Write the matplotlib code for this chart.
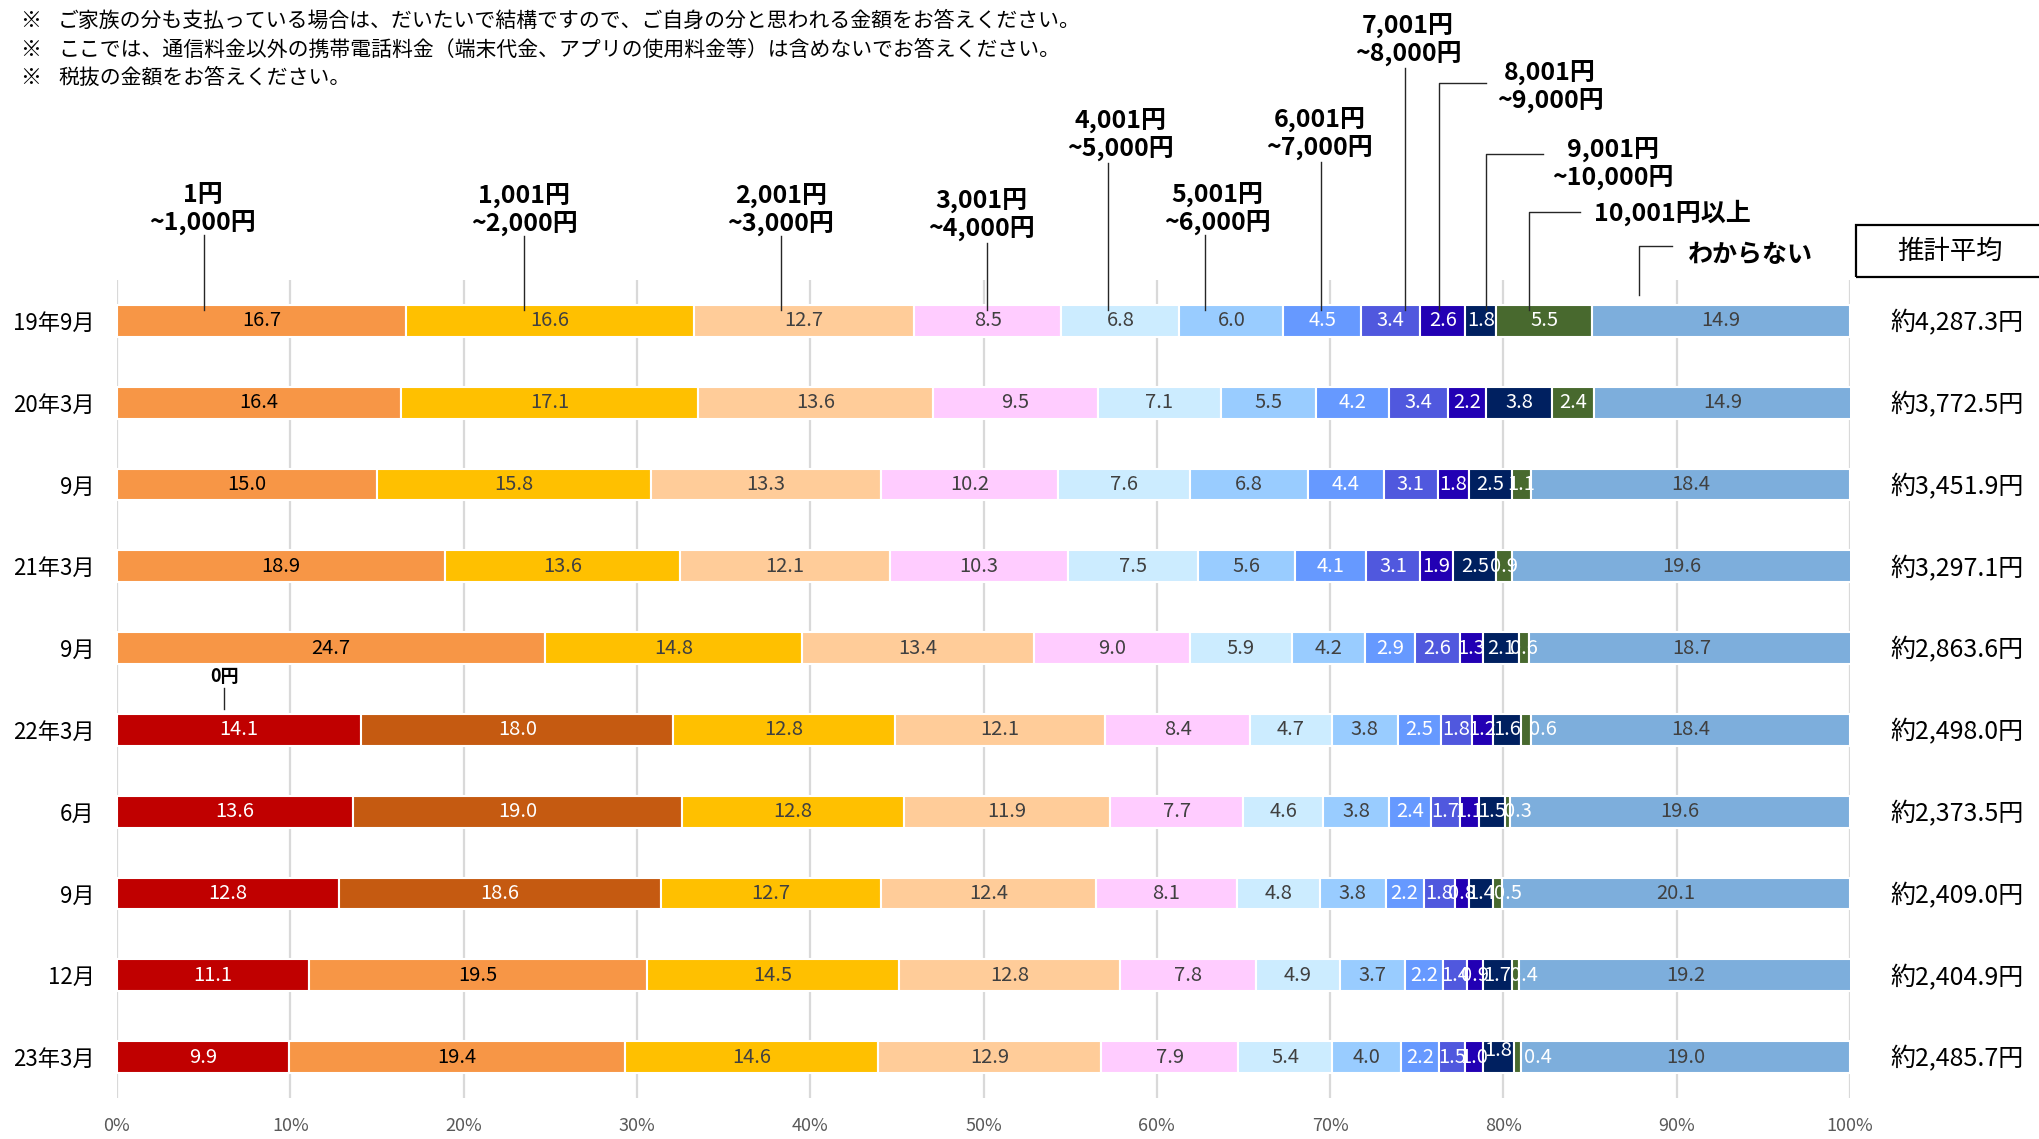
import matplotlib
matplotlib.use("Agg")
import matplotlib.pyplot as plt
from matplotlib.transforms import blended_transform_factory
from matplotlib.patches import Rectangle
from matplotlib.lines import Line2D
import numpy as np

plt.rcParams['font.family'] = ['Noto Sans CJK JP', 'DejaVu Sans']

# ---- data -------------------------------------------------------------
periods = ['19年9月', '20年3月', '9月', '21年3月', '9月',
           '22年3月', '6月', '9月', '12月', '23年3月']

bands = ['0円', '1円~1,000円', '1,001円~2,000円', '2,001円~3,000円',
         '3,001円~4,000円', '4,001円~5,000円', '5,001円~6,000円',
         '6,001円~7,000円', '7,001円~8,000円', '8,001円~9,000円',
         '9,001円~10,000円', '10,001円以上', 'わからない']

yen_0 = [0, 0, 0, 0, 0, 14.1, 13.6, 12.8, 11.1, 9.9]
yen_1_1000 = [16.7, 16.4, 15.0, 18.9, 24.7, 18.0, 19.0, 18.6, 19.5, 19.4]
yen_1001_2000 = [16.6, 17.1, 15.8, 13.6, 14.8, 12.8, 12.8, 12.7, 14.5, 14.6]
yen_2001_3000 = [12.7, 13.6, 13.3, 12.1, 13.4, 12.1, 11.9, 12.4, 12.8, 12.9]
yen_3001_4000 = [8.5, 9.5, 10.2, 10.3, 9.0, 8.4, 7.7, 8.1, 7.8, 7.9]
yen_4001_5000 = [6.8, 7.1, 7.6, 7.5, 5.9, 4.7, 4.6, 4.8, 4.9, 5.4]
yen_5001_6000 = [6.0, 5.5, 6.8, 5.6, 4.2, 3.8, 3.8, 3.8, 3.7, 4.0]
yen_6001_7000 = [4.5, 4.2, 4.4, 4.1, 2.9, 2.5, 2.4, 2.2, 2.2, 2.2]
yen_7001_8000 = [3.4, 3.4, 3.1, 3.1, 2.6, 1.8, 1.7, 1.8, 1.4, 1.5]
yen_8001_9000 = [2.6, 2.2, 1.8, 1.9, 1.3, 1.2, 1.1, 0.8, 0.9, 1.0]
yen_9001_10000 = [1.8, 3.8, 2.5, 2.5, 2.1, 1.6, 1.5, 1.4, 1.7, 1.8]
yen_10001_over = [5.5, 2.4, 1.1, 0.9, 0.6, 0.6, 0.3, 0.5, 0.4, 0.4]
unknown = [14.9, 14.9, 18.4, 19.6, 18.7, 18.4, 19.6, 20.1, 19.2, 19.0]

averages = ['約4,287.3円', '約3,772.5円', '約3,451.9円', '約3,297.1円',
            '約2,863.6円', '約2,498.0円', '約2,373.5円', '約2,409.0円',
            '約2,404.9円', '約2,485.7円']

notes = ['ご家族の分も支払っている場合は、だいたいで結構ですので、ご自身の分と思われる金額をお答えください。',
         'ここでは、通信料金以外の携帯電話料金（端末代金、アプリの使用料金等）は含めないでお答えください。',
         '税抜の金額をお答えください。']

series = [yen_0, yen_1_1000, yen_1001_2000, yen_2001_3000, yen_3001_4000,
          yen_4001_5000, yen_5001_6000, yen_6001_7000, yen_7001_8000,
          yen_8001_9000, yen_9001_10000, yen_10001_over, unknown]

# ---- style ------------------------------------------------------------
fill_colors = ['#C00000', '#F79646', '#FFC000', '#FFCC99', '#FFCCFF',
               '#CCECFF', '#99CCFF', '#6699FF', '#5058DE', '#2200B4',
               '#002060', '#48692E', '#7DAEDC']
text_colors = ['white', 'black', '#404040', '#404040', '#404040',
               '#404040', '#404040', 'white', 'white', 'white',
               'white', 'white', '#404040']
# the 1円~1,000円 band is shown in a darker orange for three surveys
dark_orange_rows = [5, 6, 7]
# small value labels pushed aside so they stay legible: (row, band) -> (dx %, dy rows)
label_nudges = {(5, 11): (1.0, 0), (6, 11): (0.6, 0), (7, 11): (0.6, 0),
                (8, 11): (0.5, 0), (9, 11): (1.2, 0), (9, 10): (0, -0.08)}

W, H = 2039, 1139
fig = plt.figure(figsize=(W / 100, H / 100), dpi=100)
ax = fig.add_axes([117 / W, 1 - 1098 / H, (1850 - 117) / W, (1098 - 280) / H])


def fy(px):
    return 1 - px / H


n = len(periods)
ypos = np.arange(n)
left = np.zeros(n)
for k, vals in enumerate(series):
    vals = np.array(vals, dtype=float)
    cols = [fill_colors[k]] * n
    tcols = [text_colors[k]] * n
    if k == 1:
        for r in dark_orange_rows:
            cols[r] = '#C55A11'
            tcols[r] = 'white'
    ax.barh(ypos, vals, left=left, height=0.39, color=cols,
            edgecolor='white', linewidth=1.5, zorder=3)
    for j in range(n):
        if vals[j] > 0:
            dx, dy = label_nudges.get((j, k), (0, 0))
            ax.text(left[j] + vals[j] / 2 + dx, j + dy, f'{vals[j]:.1f}',
                    ha='center', va='center', fontsize=14.5,
                    color=tcols[j], zorder=5)
    left += vals

ax.set_xlim(0, 100)
ax.set_ylim(n - 0.5, -0.5)
ticks = list(range(0, 101, 10))
ax.set_xticks(ticks)
ax.set_xticklabels([f'{t}%' for t in ticks], fontsize=13, color='#595959')
ax.set_yticks(ypos)
ax.set_yticklabels(periods, fontsize=16)
ax.tick_params(axis='x', length=0, pad=14)
ax.tick_params(axis='y', length=0, pad=16)
ax.xaxis.grid(True, color='#D9D9D9', linewidth=1.6, zorder=0)
ax.set_axisbelow(True)
for s in ax.spines.values():
    s.set_visible(False)

# ---- estimated average column ------------------------------------------
tr_avg = blended_transform_factory(fig.transFigure, ax.transData)
for j, a in enumerate(averages):
    ax.text(1957 / W, j + 0.03, a, transform=tr_avg, ha='center',
            va='center', fontsize=18, clip_on=False)
fig.add_artist(Rectangle((1856 / W, fy(277)), (2060 - 1856) / W, 52 / H,
                         transform=fig.transFigure, fill=False,
                         edgecolor='black', linewidth=1.6))
fig.text(1950 / W, fy(251), '推計平均', ha='center', va='center', fontsize=19)

# ---- notes ---------------------------------------------------------------
for i, line in enumerate(notes):
    y = fy(21 + 28.5 * i)
    fig.text(20 / W, y, '※', va='center', fontsize=15)
    fig.text(58 / W, y, line, va='center', fontsize=15)

# ---- band captions with leader lines --------------------------------------
tr = blended_transform_factory(ax.transData, fig.transFigure)
lead_kw = dict(color='#262626', linewidth=1.0, transform=tr, clip_on=False)
cap_kw = dict(fontsize=18, fontweight='bold', transform=tr, va='center')

# (top line, bottom line, text x %, first line y px, leader x %, leader top px)
vertical_caps = [
    ('1円', '~1,000円', 4.96, 195, 5.0, 235),
    ('1,001円', '~2,000円', 23.5, 196, 23.5, 236),
    ('2,001円', '~3,000円', 38.3, 196, 38.3, 236),
    ('3,001円', '~4,000円', 49.9, 201, 50.2, 243),
    ('4,001円', '~5,000円', 57.9, 121, 57.2, 163),
    ('5,001円', '~6,000円', 63.5, 195, 62.8, 235),
    ('6,001円', '~7,000円', 69.4, 120, 69.5, 162),
    ('7,001円', '~8,000円', 74.5, 26, 74.3, 68),
]
for top, bottom, tx, ty, lx, ltop in vertical_caps:
    ax.text(tx, fy(ty), top, ha='center', **cap_kw)
    ax.text(tx, fy(ty + 28), bottom, ha='center', **cap_kw)
    fig.add_artist(Line2D([lx, lx], [fy(ltop), fy(310)], **lead_kw))

# elbow leaders: (lines, text x %, first line y px, align, leader x %,
#                 elbow y px, elbow end x %, leader bottom px)
elbow_caps = [
    (['8,001円', '~9,000円'], 82.7, 73, 'center', 76.3, 83, 79.0, 310),
    (['9,001円', '~10,000円'], 86.3, 150, 'center', 79.0, 154, 82.3, 310),
    (['10,001円以上'], 85.2, 213, 'left', 81.5, 212, 84.4, 310),
    (['わからない'], 90.65, 255, 'left', 87.8, 246, 89.7, 295),
]
for lines, tx, ty, ha, lx, ey, ex, lbot in elbow_caps:
    for m, s in enumerate(lines):
        ax.text(tx, fy(ty + 28 * m), s, ha=ha, **cap_kw)
    fig.add_artist(Line2D([ex, lx, lx], [fy(ey), fy(ey), fy(lbot)], **lead_kw))

# caption for the 0円 band, first surveyed in 22年3月
ax.text(6.2, fy(677), '0円', ha='center', va='center', fontsize=13,
        fontweight='bold', transform=tr)
fig.add_artist(Line2D([6.2, 6.2], [fy(688), fy(709)], **lead_kw))

fig.savefig('out.png', dpi=100)
